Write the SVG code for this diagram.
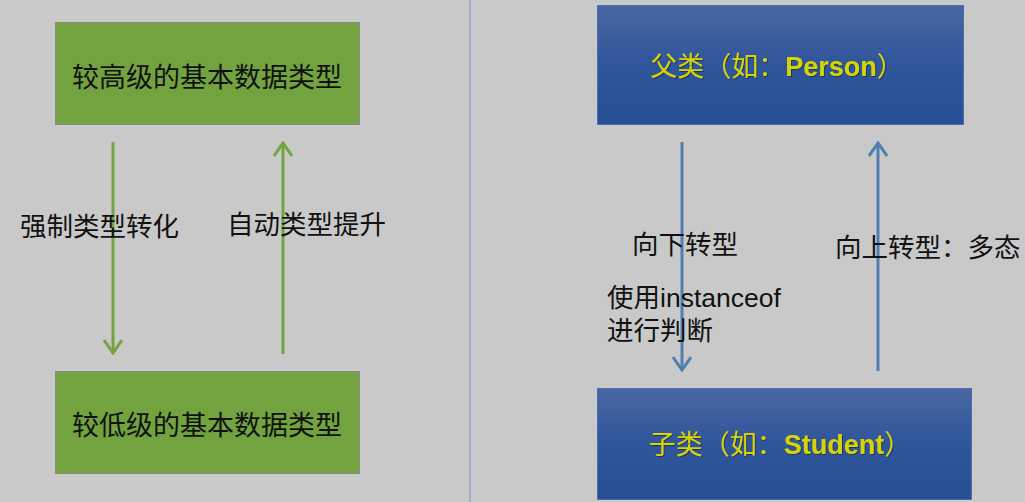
<svg xmlns="http://www.w3.org/2000/svg" width="1025" height="502" viewBox="0 0 1025 502">
<defs>
<linearGradient id="blueGrad" x1="0" y1="0" x2="0" y2="1">
<stop offset="0" stop-color="#4966a1"/>
<stop offset="0.5" stop-color="#2f559b"/>
<stop offset="1" stop-color="#284f94"/>
</linearGradient>
<filter id="shadow" x="-10%" y="-30%" width="120%" height="160%">
<feDropShadow dx="1" dy="1" stdDeviation="0.6" flood-color="#1a2a50" flood-opacity="0.8"/>
</filter>
<marker id="arrG" viewBox="0 0 16 20" markerWidth="16" markerHeight="20" refX="14" refY="10" orient="auto" markerUnits="userSpaceOnUse">
<path d="M1,1 L14,10 L1,19" fill="none" stroke="#72a443" stroke-width="3"/>
</marker>
<marker id="arrB" viewBox="0 0 16 20" markerWidth="16" markerHeight="20" refX="14" refY="10" orient="auto" markerUnits="userSpaceOnUse">
<path d="M1,1 L14,10 L1,19" fill="none" stroke="#4f7fb0" stroke-width="3"/>
</marker>
</defs>
<style>
.green{fill:#72a33f;stroke:#8a8a8a;stroke-width:1}
.blue{fill:url(#blueGrad);stroke:#4a70b0;stroke-width:1}
.gtxt{font-family:"Noto Sans CJK SC","Liberation Sans",sans-serif;font-size:27px;fill:#111;text-anchor:middle;dominant-baseline:central}
.btxt{font-family:"Liberation Sans","Noto Sans CJK SC",sans-serif;font-size:27px;fill:#d8d400;text-anchor:middle;dominant-baseline:central;filter:url(#shadow)}
.b{font-weight:bold}
.lbl{font-family:"Liberation Sans","Noto Sans CJK SC",sans-serif;font-size:26.5px;fill:#111;dominant-baseline:central}
.gline{stroke:#72a443;stroke-width:3;fill:none}
.bline{stroke:#4f7fb0;stroke-width:3;fill:none}
</style>
<rect width="1025" height="502" fill="#c9c9c9"/>
<line x1="470" y1="0" x2="470" y2="502" stroke="#8fa6c4" stroke-width="1.5"/>

<g id="high-type">
<rect class="green" x="55.5" y="22.5" width="304" height="102"/>
<text class="gtxt" x="207" y="75">较高级的基本数据类型</text>
</g>
<g id="low-type">
<rect class="green" x="55.5" y="371.5" width="304" height="102"/>
<text class="gtxt" x="207" y="423">较低级的基本数据类型</text>
</g>
<g id="parent-class">
<rect class="blue" x="597.5" y="5.5" width="366" height="119"/>
<text class="btxt" x="777" y="67">父类（如：<tspan class="b">Person</tspan>）</text>
</g>
<g id="child-class">
<rect class="blue" x="597.5" y="388.5" width="374" height="111"/>
<text class="btxt" x="780" y="445">子类（如：<tspan class="b">Student</tspan>）</text>
</g>

<g id="connectors">
<line class="gline" x1="113" y1="142" x2="113" y2="353" marker-end="url(#arrG)"/>
<line class="gline" x1="283" y1="354" x2="283" y2="143" marker-end="url(#arrG)"/>
<line class="bline" x1="682" y1="142" x2="682" y2="370" marker-end="url(#arrB)"/>
<line class="bline" x1="878" y1="371" x2="878" y2="143" marker-end="url(#arrB)"/>
</g>

<g id="labels">
<text class="lbl" x="20" y="227">强制类型转化</text>
<text class="lbl" x="227" y="225">自动类型提升</text>
<text class="lbl" x="632" y="245">向下转型</text>
<text class="lbl" x="835" y="248">向上转型：多态</text>
<text class="lbl" x="607" y="298">使用instanceof</text>
<text class="lbl" x="607" y="331">进行判断</text>
</g>
</svg>
